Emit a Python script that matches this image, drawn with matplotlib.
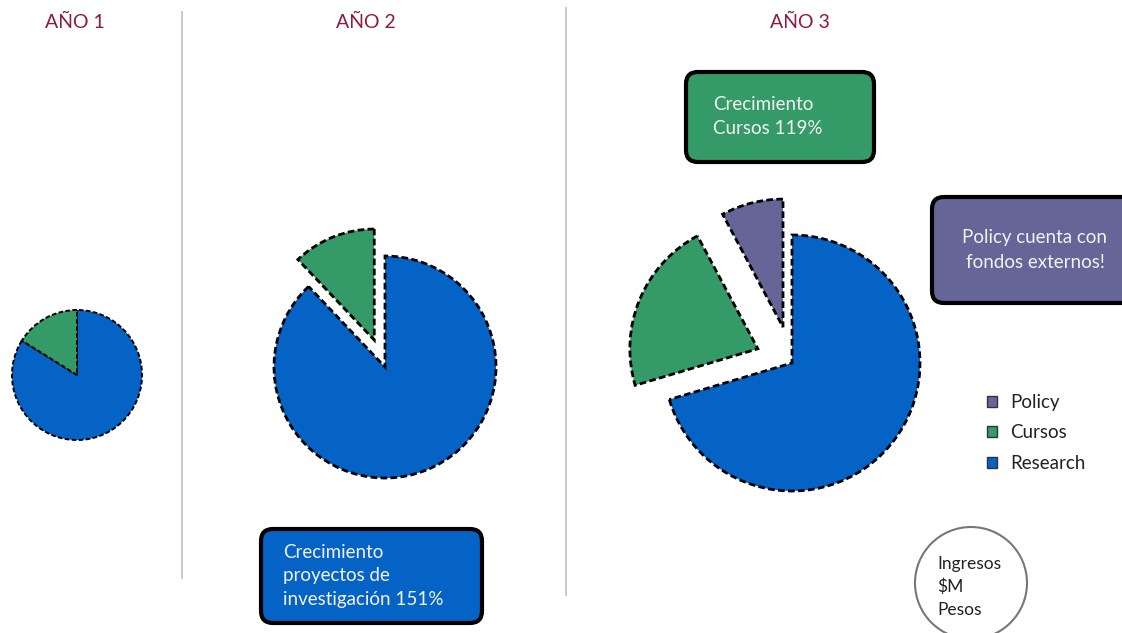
import matplotlib.pyplot as plt
from matplotlib.patches import FancyBboxPatch, Circle, Patch

plt.rcParams['font.family'] = ['Lato', 'DejaVu Sans']

# Ingresos ($M pesos) por año
years = ['AÑO 1', 'AÑO 2', 'AÑO 3']
categories = ['Research', 'Cursos', 'Policy']
research = [5.2, 13.1, 12.6]
cursos = [1.0, 1.8, 3.9]
policy = [0.0, 0.0, 1.4]

cat_colors = {'Research': '#0563C6', 'Cursos': '#349A67', 'Policy': '#656598'}
title_color = '#8E1B3E'

# layout in pixel units (y measured from the top)
W, H = 1122, 633
centers = [(77, 375), (385, 367), (792, 363)]
radii = [65, 111, 128]
explode_px = [{}, {'Cursos': 29}, {'Cursos': 37, 'Policy': 37}]
title_x = [75, 366, 800]


def fy(y):
    return H - y


fig = plt.figure(figsize=(W / 100, H / 100), dpi=100)
ax = fig.add_axes([0, 0, 1, 1])

for i, year in enumerate(years):
    vals = {'Research': research[i], 'Cursos': cursos[i], 'Policy': policy[i]}
    cats = [c for c in categories if vals[c] > 0]
    lw = 1.4 if i == 0 else 2.0
    ax.pie([vals[c] for c in cats],
           colors=[cat_colors[c] for c in cats],
           explode=[explode_px[i].get(c, 0) for c in cats],
           radius=radii[i], center=(centers[i][0], fy(centers[i][1])),
           startangle=90, counterclock=False,
           wedgeprops=dict(edgecolor='black', linewidth=lw, linestyle=(0, (2.4, 1.2))))
    ax.text(title_x[i], fy(22), year, ha='center', va='center',
            fontsize=14, color=title_color)

# separators
ax.plot([182, 182], [fy(12), fy(578)], color='#c4c4c4', lw=1.3)
ax.plot([566, 566], [fy(8), fy(595)], color='#c4c4c4', lw=1.3)


def note(x0, y0, x1, y1, color, text, tx, ha='left'):
    box = FancyBboxPatch((x0, fy(y1)), x1 - x0, y1 - y0,
                         boxstyle='round,pad=0,rounding_size=12',
                         fc=color, ec='black', lw=3, zorder=3)
    ax.add_patch(box)
    ax.text(tx, fy((y0 + y1) / 2), text, ha=ha, va='center', color='#f2f2f2',
            fontsize=13.5, linespacing=1.5, zorder=4)


note(686, 72, 874, 162, cat_colors['Cursos'], 'Crecimiento\nCursos 119%', 713)
note(932, 197, 1135, 303, cat_colors['Policy'], 'Policy cuenta con\nfondos externos!', 1035, ha='center')
note(261, 529, 482, 623, cat_colors['Research'],
     'Crecimiento\nproyectos de\ninvestigación 151%', 283)

# legend
handles = [Patch(fc=cat_colors[c], ec='#333333', lw=1) for c in categories[::-1]]
ax.legend(handles, categories[::-1], loc='upper left',
          bbox_to_anchor=(970 / W, 1 - 377 / H), frameon=False,
          fontsize=13.5, handlelength=0.55, handleheight=0.55,
          handletextpad=0.7, labelspacing=0.72, labelcolor='#222222')

# units circle
ax.add_patch(Circle((971, fy(583)), 56, fc='white', ec='#777777', lw=1.5))
ax.text(937, fy(587), 'Ingresos\n$M\nPesos', ha='left', va='center',
        fontsize=12.5, color='#222222', linespacing=1.5)

ax.set_xlim(0, W)
ax.set_ylim(0, H)
ax.set_aspect('equal')
ax.axis('off')

fig.savefig('out.png', dpi=100)
